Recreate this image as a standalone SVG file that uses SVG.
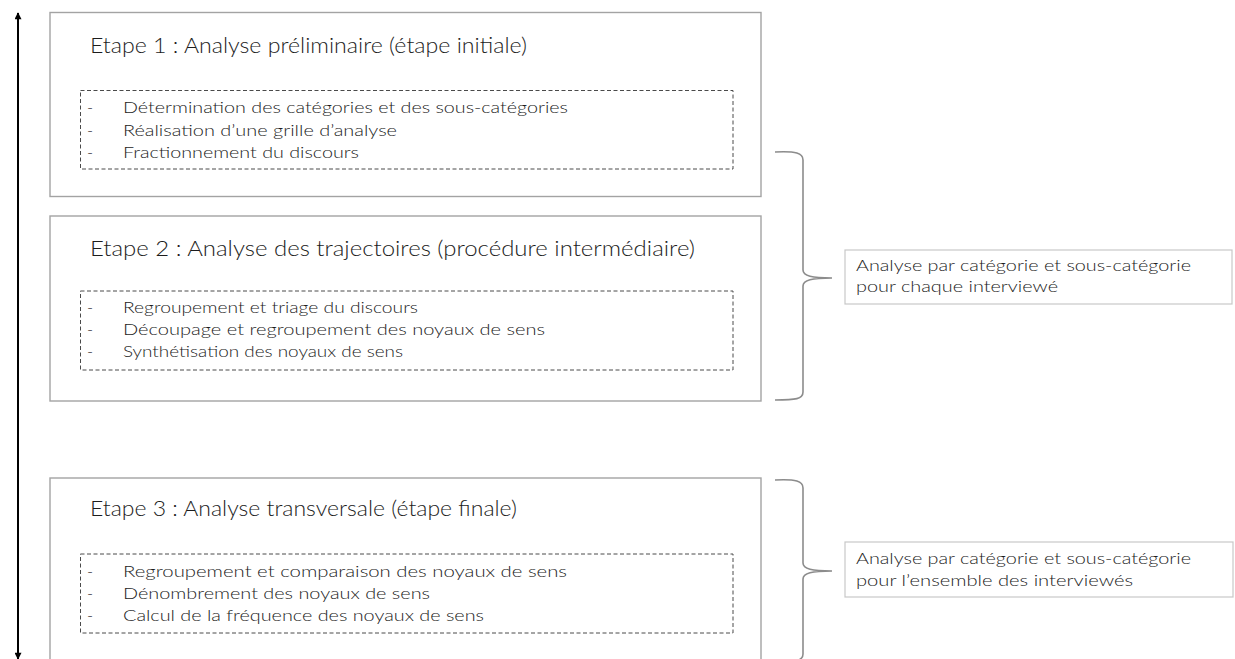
<svg xmlns="http://www.w3.org/2000/svg" width="1235" height="659" viewBox="0 0 1235 659">
  <style>
    .frame { fill: #ffffff; stroke: #a3a3a3; stroke-width: 1.4; }
    .inner { fill: none; stroke: #4a4a4a; stroke-width: 1; stroke-dasharray: 4 2.5; }
    .brace { fill: none; stroke: #8c8c8c; stroke-width: 1.6; }
    .note { fill: #ffffff; stroke: #c8c8c8; stroke-width: 1.2; }
    .title { font-family: Lato, "Liberation Sans", sans-serif; font-weight: 300; font-size: 21.5px; fill: #1c1c1c; }
    .item { font-family: Lato, "Liberation Sans", sans-serif; font-weight: 300; font-size: 16.5px; fill: #1c1c1c; }
    .label { font-family: Lato, "Liberation Sans", sans-serif; font-weight: 300; font-size: 16.5px; fill: #1c1c1c; }
  </style>
  <defs>
    <marker id="head" viewBox="0 0 10 10" refX="9" refY="5" markerWidth="8" markerHeight="7" orient="auto-start-reverse" markerUnits="userSpaceOnUse">
      <path d="M0,0 L10,5 L0,10 z" fill="#000000"/>
    </marker>
  </defs>

  <rect width="1235" height="659" fill="#ffffff"/>

  <!-- timeline arrow and braces -->
  <g id="connectors">
    <line x1="18" y1="13" x2="18" y2="659" stroke="#000000" stroke-width="2" marker-start="url(#head)" marker-end="url(#head)"/>
    <path class="brace" d="M775,152 C796,151 803,153 803,160 L803,270 C803,276 812,278 832,278 C812,278 803,280 803,286 L803,392 C803,399 796,400 775,400"/>
    <path class="brace" d="M775,480 C796,479 803,481 803,488 L803,563 C803,569 812,571 832,571 C812,571 803,573 803,579 L803,654 C803,661 796,662 775,662"/>
  </g>

  <!-- step 1 -->
  <g id="step1">
    <rect class="frame" x="50" y="12.5" width="711" height="184"/>
    <text class="title" x="90" y="53" textLength="437" lengthAdjust="spacingAndGlyphs">Etape 1 : Analyse préliminaire (étape initiale)</text>
    <rect class="inner" x="80.5" y="90.5" width="652.5" height="78.5"/>
    <text class="item" x="87" y="113">-</text>
    <text class="item" x="123" y="113" textLength="445" lengthAdjust="spacingAndGlyphs">Détermination des catégories et des sous-catégories</text>
    <text class="item" x="87" y="136">-</text>
    <text class="item" x="123" y="136" textLength="274" lengthAdjust="spacingAndGlyphs">Réalisation d’une grille d’analyse</text>
    <text class="item" x="87" y="158">-</text>
    <text class="item" x="123" y="158" textLength="236" lengthAdjust="spacingAndGlyphs">Fractionnement du discours</text>
  </g>

  <!-- step 2 -->
  <g id="step2">
    <rect class="frame" x="50" y="216" width="711" height="185"/>
    <text class="title" x="90" y="256" textLength="605" lengthAdjust="spacingAndGlyphs">Etape 2 : Analyse des trajectoires (procédure intermédiaire)</text>
    <rect class="inner" x="80.5" y="291" width="652.5" height="79"/>
    <text class="item" x="87" y="313">-</text>
    <text class="item" x="123" y="313" textLength="295" lengthAdjust="spacingAndGlyphs">Regroupement et triage du discours</text>
    <text class="item" x="87" y="335">-</text>
    <text class="item" x="123" y="335" textLength="422" lengthAdjust="spacingAndGlyphs">Découpage et regroupement des noyaux de sens</text>
    <text class="item" x="87" y="357">-</text>
    <text class="item" x="123" y="357" textLength="280" lengthAdjust="spacingAndGlyphs">Synthétisation des noyaux de sens</text>
  </g>

  <!-- step 3 -->
  <g id="step3">
    <rect class="frame" x="50" y="478" width="711" height="200"/>
    <text class="title" x="90" y="516" textLength="427" lengthAdjust="spacingAndGlyphs">Etape 3 : Analyse transversale (étape finale)</text>
    <rect class="inner" x="80.5" y="554" width="652.5" height="79"/>
    <text class="item" x="87" y="577">-</text>
    <text class="item" x="123" y="577" textLength="444" lengthAdjust="spacingAndGlyphs">Regroupement et comparaison des noyaux de sens</text>
    <text class="item" x="87" y="599">-</text>
    <text class="item" x="123" y="599" textLength="307" lengthAdjust="spacingAndGlyphs">Dénombrement des noyaux de sens</text>
    <text class="item" x="87" y="621">-</text>
    <text class="item" x="123" y="621" textLength="361" lengthAdjust="spacingAndGlyphs">Calcul de la fréquence des noyaux de sens</text>
  </g>

  <!-- per-interviewee note -->
  <g id="note1">
    <rect class="note" x="845" y="250" width="387" height="54"/>
    <text class="label" x="856" y="271" textLength="335" lengthAdjust="spacingAndGlyphs">Analyse par catégorie et sous-catégorie</text>
    <text class="label" x="856" y="292" textLength="202" lengthAdjust="spacingAndGlyphs">pour chaque interviewé</text>
  </g>

  <!-- all-interviewees note -->
  <g id="note2">
    <rect class="note" x="845" y="542" width="388" height="55"/>
    <text class="label" x="856" y="564" textLength="335" lengthAdjust="spacingAndGlyphs">Analyse par catégorie et sous-catégorie</text>
    <text class="label" x="856" y="586" textLength="277" lengthAdjust="spacingAndGlyphs">pour l’ensemble des  interviewés</text>
  </g>
</svg>
